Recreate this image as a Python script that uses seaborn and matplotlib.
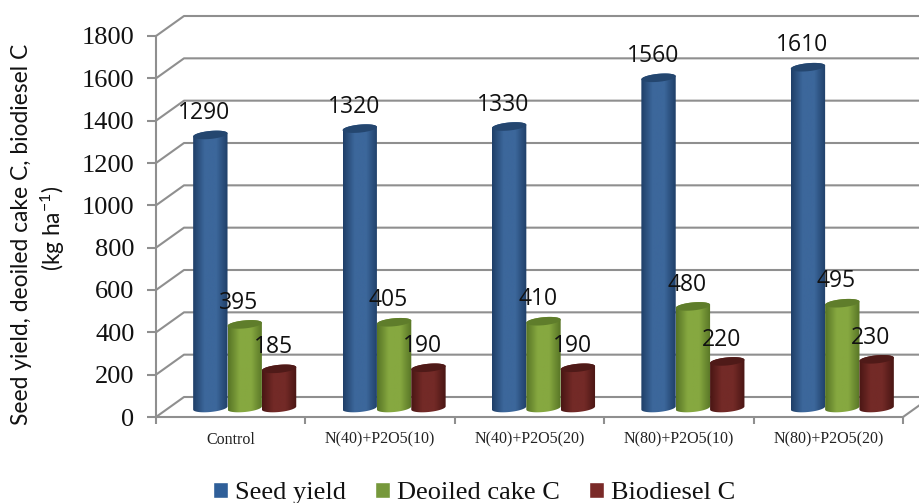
import numpy as np
import pandas as pd
import seaborn as sns
import matplotlib.pyplot as plt
from matplotlib.colors import LinearSegmentedColormap
from matplotlib.patches import Polygon

treatments = ['Control', 'N(40)+P2O5(10)', 'N(40)+P2O5(20)', 'N(80)+P2O5(10)', 'N(80)+P2O5(20)']
seed_yield = [1290, 1320, 1330, 1560, 1610]
deoiled_cake = [395, 405, 410, 480, 495]
biodiesel = [185, 190, 190, 220, 230]
series_names = ['Seed yield', 'Deoiled cake C', 'Biodiesel C']
y_ticks = [0, 200, 400, 600, 800, 1000, 1200, 1400, 1600, 1800]

df = pd.DataFrame({
    'treatment': treatments * 3,
    'series': np.repeat(series_names, 5),
    'value': seed_yield + deoiled_cake + biodiesel,
})

swatch = ['#2f5f99', '#76983b', '#7a2a28']
edge_dark = ['#1f3f68', '#587526', '#4a1614']
mid_light = ['#3c679b', '#86a840', '#732a27']
top_dark = ['#24466f', '#5f7d2b', '#4f1a18']

sns.set_style('white')
plt.rcParams['font.family'] = ['Lato', 'DejaVu Sans']
plt.rcParams['mathtext.default'] = 'regular'
grey = '#8f8f8f'
W, H = 920, 503
PX_Y = 381 / 1800


def px_axes(fig, left, right, bottom, top):
    return fig.add_axes([left / W, 1 - bottom / H, (right - left) / W, (bottom - top) / H])


fig = plt.figure(figsize=(9.2, 5.03), dpi=100, facecolor='white')

# front plane: ticks, labels and the fake 3d walls
bg = px_axes(fig, 156, 903, 417, 36)
bg.set_xlim(-0.5, 4.5)
bg.set_ylim(0, 1800)
bg.patch.set_visible(False)
for s in ['top', 'right']:
    bg.spines[s].set_visible(False)
for s in ['left', 'bottom']:
    bg.spines[s].set_color(grey)
    bg.spines[s].set_linewidth(1.5)
dx = 28 / 149.4
dy = 20 / PX_Y
for v in y_ticks:
    bg.plot([-0.5, -0.5 + dx, 4.5 + dx], [v, v + dy, v + dy], color=grey, lw=1.5, clip_on=False, zorder=1)
bg.plot([4.5, 4.5 + dx], [0, dy], color=grey, lw=1.5, clip_on=False, zorder=1)
bg.set_yticks(y_ticks)
bg.set_yticklabels(y_ticks, family='Liberation Serif', fontsize=19, color='#111111')
bg.tick_params(axis='y', left=True, length=6.5, width=1.5, color=grey, pad=9)
bg.set_xticks(np.arange(-0.5, 5, 1))
bg.set_xticklabels([])
bg.tick_params(axis='x', which='major', bottom=True, length=5, width=1.5, color=grey)
bg.set_xticks(range(5), treatments, minor=True, family='Liberation Serif', fontsize=11.5, color='#222222')
bg.tick_params(axis='x', which='minor', bottom=False, length=0, pad=10.5)
fig.text(22 / W, 1 - 234 / H, 'Seed yield, deoiled cake C, biodiesel C', rotation=90,
         ha='center', va='center', fontsize=16.4, color='#111111')
fig.text(53 / W, 1 - 228 / H, '(kg ha$^{-1}$)', rotation=90, ha='center', va='center',
         fontsize=16.4, color='#111111')

# bars sit a little behind the front plane
low = -60
ax = px_axes(fig, 170, 917, 408 - low * PX_Y, 408 - 1800 * PX_Y)
ax.patch.set_visible(False)
sns.barplot(data=df, x='treatment', y='value', hue='series', palette=swatch,
            width=0.69, gap=0, ax=ax, errorbar=None, saturation=1)
ax.set_xlim(-0.5, 4.5)
ax.set_ylim(low, 1800)

t = np.linspace(0, 2 * np.pi, 80)
for k, container in enumerate(ax.containers):
    cmap = LinearSegmentedColormap.from_list('cyl', [edge_dark[k], mid_light[k], mid_light[k], edge_dark[k]])
    for bar in container:
        x0, w, h = bar.get_x(), bar.get_width(), bar.get_height()
        cx = x0 + w / 2
        a = w / 2
        b = 4 / PX_Y
        tilt = 1.6 / PX_Y / a
        lower_t = np.linspace(np.pi, 2 * np.pi, 40)
        upper_t = np.linspace(0, np.pi, 40)
        side = np.r_[a * np.cos(lower_t), a * np.cos(upper_t)]
        yy = np.r_[b * np.sin(lower_t), h + b * np.sin(upper_t)] + tilt * side
        body = Polygon(np.c_[cx + side, yy], transform=ax.transData, fc='none', ec='none')
        ax.add_patch(body)
        im = ax.imshow(np.linspace(0, 1, 64)[None, :], cmap=cmap, aspect='auto',
                       extent=(x0, x0 + w, low, h + 2 * b + tilt * a), zorder=3)
        im.set_clip_path(body)
        ax.fill(cx + a * np.cos(t), h + b * np.sin(t) + tilt * a * np.cos(t), color=top_dark[k], lw=0, zorder=4)
        ax.annotate(str(int(h)), xy=(cx, h), xytext=(-4.2, 15.7), textcoords='offset points',
                    ha='center', va='center', fontsize=16.5, family='Open Sans', color='#111111', zorder=6)
        bar.set_visible(False)
ax.set_xlim(-0.5, 4.5)
ax.set_ylim(low, 1800)
ax.set_axis_off()

sns.move_legend(ax, 'center', bbox_to_anchor=(474 / W, 1 - 493 / H), bbox_transform=fig.transFigure,
                ncol=3, frameon=False, title=None, prop={'family': 'Liberation Serif', 'size': 19},
                handlelength=0.58, handleheight=0.58, handletextpad=0.25, columnspacing=1.1)
for text in ax.get_legend().get_texts():
    text.set_color('#111111')

fig.savefig('out.png', dpi=100)
